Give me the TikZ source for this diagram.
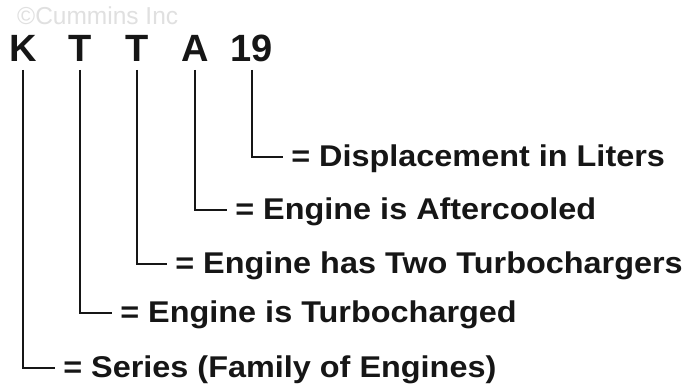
\documentclass[tikz,border=0pt]{standalone}
\usepackage{fontspec}
\setmainfont{Liberation Sans}
\usetikzlibrary{positioning}
\definecolor{ink}{RGB}{22,22,22}
\definecolor{faint}{RGB}{224,224,224}
\tikzset{
  code/.style={font=\fontsize{38}{40}\selectfont\bfseries,text=ink,inner sep=0pt,anchor=base},
  lbl/.style={font=\fontsize{30}{32}\selectfont\bfseries,text=ink,anchor=west,xscale=1.08,
    inner xsep=7.5pt,inner ysep=0pt,text height=18pt,text depth=0pt},
  lead/.style={draw=ink,line width=2.2pt},
  copyr/.style={font=\fontsize{24.5}{26}\selectfont,text=faint,inner sep=0pt,anchor=base west},
}

\begin{document}
\begin{tikzpicture}[x=1pt,y=-1pt]
    \fill[white] (0,0) rectangle (693,385);
    \useasboundingbox (0,0) rectangle (693,385);

    % watermark
    \node[copyr] (cr) at (17,25) {©Cummins Inc};

    % model code letters
    \node[code] (k)  at (23,62)  {K};
    \node[code] (t1) at (80,62)  {T};
    \node[code] (t2) at (137,62) {T};
    \node[code] (a)  at (195,62) {A};
    \node[code] (dl) at (252,62) {19};

    % meanings
    \node[lbl] (lk)  at (55,368)  {= Series (Family of Engines)};
    \node[lbl] (lt1) at (112,313) {= Engine is Turbocharged};
    \node[lbl] (lt2) at (167,264) {= Engine has Two Turbochargers};
    \node[lbl] (la)  at (227,210) {= Engine is Aftercooled};
    \node[lbl] (ldl) at (283,157) {= Displacement in Liters};

    % leaders
    \draw[lead] ([yshift=-8pt]k.base)  |- (lk.west);
    \draw[lead] ([yshift=-8pt]t1.base) |- (lt1.west);
    \draw[lead] ([yshift=-8pt]t2.base) |- (lt2.west);
    \draw[lead] ([yshift=-8pt]a.base)  |- (la.west);
    \draw[lead] ([yshift=-8pt]dl.base) |- (ldl.west);
\end{tikzpicture}
\end{document}
